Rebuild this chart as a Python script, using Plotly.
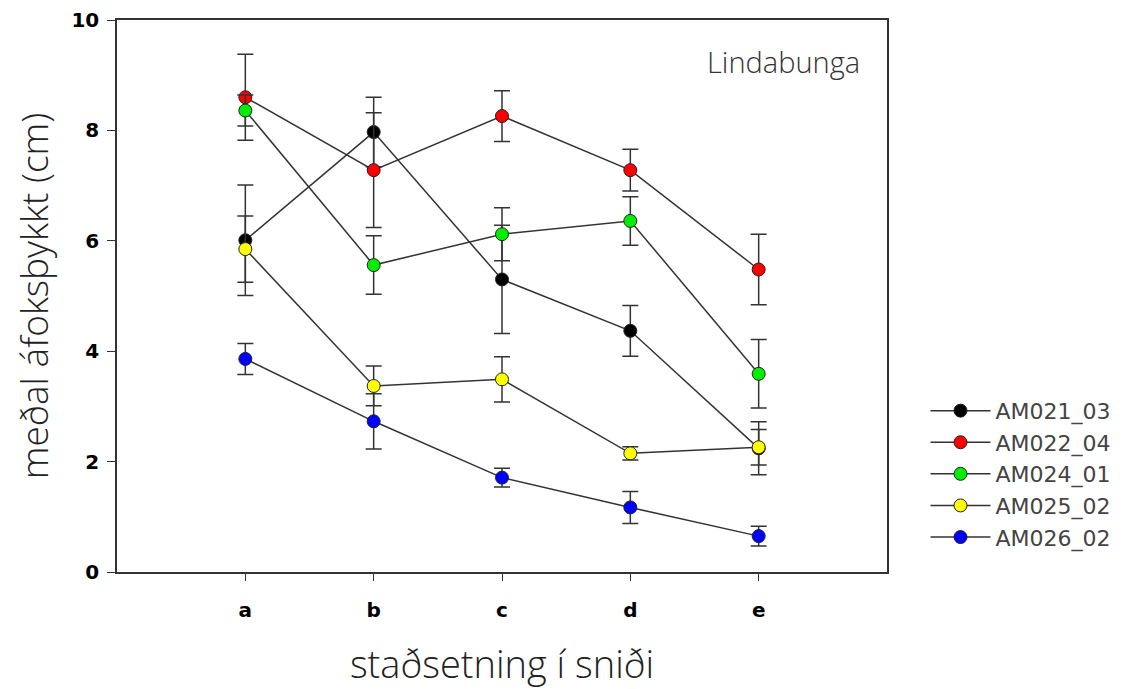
import plotly.graph_objects as go

categories = ["a", "b", "c", "d", "e"]
series_names = ["AM021_03", "AM022_04", "AM024_01", "AM025_02", "AM026_02"]
colors = ["#000000", "#ff0000", "#00ee00", "#ffff00", "#0000ff"]

am021_03 = [6.01, 7.97, 5.30, 4.37, 2.24]
am021_03_err = [1.00, 0.63, 0.98, 0.46, 0.48]
am022_04 = [8.60, 7.28, 8.26, 7.28, 5.48]
am022_04_err = [0.78, 1.04, 0.46, 0.38, 0.64]
am024_01 = [8.36, 5.56, 6.12, 6.36, 3.59]
am024_01_err = [0.28, 0.53, 0.48, 0.44, 0.62]
am025_02 = [5.85, 3.37, 3.49, 2.15, 2.26]
am025_02_err = [0.60, 0.36, 0.41, 0.12, 0.32]
am026_02 = [3.86, 2.73, 1.71, 1.17, 0.65]
am026_02_err = [0.28, 0.50, 0.17, 0.29, 0.18]

values = [am021_03, am022_04, am024_01, am025_02, am026_02]
errors = [am021_03_err, am022_04_err, am024_01_err, am025_02_err, am026_02_err]

fig = go.Figure()
xpos = list(range(len(categories)))
for name, col, v, e in zip(series_names, colors, values, errors):
    fig.add_trace(go.Scatter(
        x=xpos, y=v, name=name, mode="lines+markers",
        line=dict(color="#333333", width=1.5),
        marker=dict(size=13, color=col, line=dict(color="#222222", width=1)),
        error_y=dict(type="data", array=e, visible=True, color="#333333",
                     thickness=1.5, width=8),
    ))

fig.add_annotation(text="Lindabunga", x=0.865, y=0.924, xref="paper", yref="paper",
                   xanchor="center", yanchor="middle", showarrow=False,
                   font=dict(family="Open Sans", size=29, color="#333333", weight=300))

# the page body adds an 8px offset, so the figure is 8px smaller than the window
fig.update_layout(
    template="none",
    width=1127, height=681,
    margin=dict(l=109, r=248, t=12, b=117),
    plot_bgcolor="white", paper_bgcolor="white",
    showlegend=True,
    legend=dict(x=1.05, y=0.33, xanchor="left", yanchor="top",
                font=dict(family="DejaVu Sans", size=22, color="#444444"),
                tracegroupgap=0, itemwidth=60, bgcolor="rgba(0,0,0,0)"),
    xaxis=dict(
        automargin=False,
        range=[-1, 5], tickvals=xpos, ticktext=categories,
        showline=True, linecolor="#333333", linewidth=1.5, mirror=True,
        ticks="outside", ticklen=7, tickwidth=1.2, tickcolor="#333333",
        ticklabelstandoff=12,
        showgrid=False, zeroline=False,
        tickfont=dict(family="DejaVu Sans", size=20, color="#000000", weight="bold"),
        title=dict(text="staðsetning í sniði", standoff=32,
                   font=dict(family="Open Sans", size=38, color="#222222", weight=300)),
    ),
    yaxis=dict(
        automargin=False,
        range=[0, 10], tickvals=[0, 2, 4, 6, 8, 10],
        showline=True, linecolor="#333333", linewidth=1.5, mirror=True,
        ticks="outside", ticklen=8, tickwidth=1.2, tickcolor="#333333",
        ticklabelstandoff=4,
        showgrid=False, zeroline=False,
        tickfont=dict(family="DejaVu Sans", size=20, color="#000000", weight="bold"),
        title=dict(text="meðal áfoksþykkt (cm)", standoff=15,
                   font=dict(family="Open Sans", size=37, color="#222222", weight=300)),
    ),
)

fig.write_html("out.html")
